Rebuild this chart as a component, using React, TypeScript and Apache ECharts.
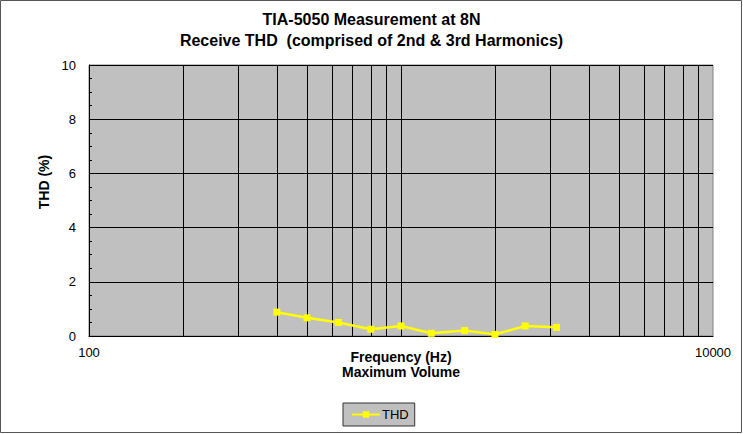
import React, { useEffect, useRef } from "react";
import * as echarts from "echarts";

const freqs = [400, 500, 630, 800, 1000, 1250, 1600, 2000, 2500, 3150];
const thd = [0.88, 0.67, 0.5, 0.25, 0.37, 0.1, 0.2, 0.06, 0.37, 0.32];
const gridFreqs = [200, 300, 400, 500, 600, 700, 800, 900, 1000, 2000, 3000, 4000, 5000, 6000, 7000, 8000, 9000];
const xLabels = [100, 10000];
const titleLines = ["TIA-5050 Measurement at 8N", "Receive THD  (comprised of 2nd & 3rd Harmonics)"];
const xAxisTitle = ["Frequency (Hz)", "Maximum Volume"];
const yAxisTitle = "THD (%)";
const seriesName = "THD";

export default function App() {
  const ref = useRef<HTMLDivElement>(null);
  useEffect(() => {
    if (!ref.current) return;
    const chart = echarts.init(ref.current, null, { renderer: "svg" });
    const font = "Liberation Sans, Arial, sans-serif";
    chart.setOption({
      animation: false,
      backgroundColor: "#ffffff",
      textStyle: { fontFamily: font },
      title: {
        text: titleLines.join("\n"),
        left: "center",
        top: 9,
        padding: 0,
        textStyle: { fontSize: 16, fontWeight: "bold", color: "#000", lineHeight: 21, fontFamily: font },
      },
      graphic: [
        {
          type: "rect",
          shape: { x: 0.5, y: 0.5, width: 741, height: 432 },
          style: { fill: "none", stroke: "#555", lineWidth: 1 },
          silent: true,
          z: 100,
        },
        {
          type: "text",
          x: 43.5,
          y: 182,
          rotation: Math.PI / 2,
          style: {
            text: yAxisTitle,
            fontSize: 14,
            fontWeight: "bold",
            fill: "#000",
            fontFamily: font,
            align: "center",
            verticalAlign: "middle",
          },
        },
      ],
      legend: {
        data: [seriesName],
        left: 343,
        top: 403,
        backgroundColor: "#C0C0C0",
        borderColor: "#333",
        borderWidth: 1,
        padding: [5, 6, 5, 8],
        itemWidth: 28,
        itemHeight: 8,
        itemGap: 2,
        textStyle: { fontSize: 13, color: "#000", fontFamily: font, padding: [0, 0, 0, -3] },
      },
      grid: {
        left: 89,
        right: 30,
        top: 65,
        bottom: 98,
        show: true,
        backgroundColor: "#C0C0C0",
        borderColor: "#808080",
        borderWidth: 1,
      },
      xAxis: {
        type: "log",
        min: 100,
        max: 10000,
        logBase: 10,
        name: xAxisTitle.join("\n"),
        nameLocation: "middle",
        nameGap: 13,
        nameMoveOverlap: false,
        nameTextStyle: { fontSize: 14, fontWeight: "bold", color: "#000", lineHeight: 15, fontFamily: font, verticalAlign: "top" },
        axisLine: { show: true, onZero: false, lineStyle: { color: "#000", width: 1 } },
        axisTick: { show: false },
        splitLine: { show: false },
        axisLabel: {
          fontSize: 13,
          color: "#000",
          margin: 10,
          fontFamily: font,
          formatter: (v: number) => (xLabels.includes(Math.round(v)) ? String(Math.round(v)) : ""),
        },
      },
      yAxis: {
        type: "value",
        min: 0,
        max: 10,
        interval: 2,
        axisLine: { show: true, lineStyle: { color: "#000", width: 1 } },
        axisTick: { show: true, inside: true, length: 4, lineStyle: { color: "#000" } },
        minorTick: { show: true, splitNumber: 4, length: 3, lineStyle: { color: "#000" } },
        splitLine: { show: true, lineStyle: { color: "#000", width: 1 } },
        axisLabel: { fontSize: 13, color: "#000", margin: 13, fontFamily: font },
      },
      series: [
        {
          name: seriesName,
          type: "line",
          data: freqs.map((f, i) => [f, thd[i]]),
          symbol: "rect",
          symbolSize: 7,
          lineStyle: { color: "#FFFF00", width: 2.5 },
          itemStyle: { color: "#FFFF00" },
          z: 5,
          markLine: {
            silent: true,
            symbol: "none",
            label: { show: false },
            lineStyle: { color: "#000", width: 1, type: "solid" },
            data: gridFreqs.map((f) => ({ xAxis: f })),
            z: 1,
          },
        },
      ],
    });
    return () => chart.dispose();
  }, []);
  return <div ref={ref} style={{ position: "fixed", left: 0, top: 0, width: 743, height: 434 }} />;
}
